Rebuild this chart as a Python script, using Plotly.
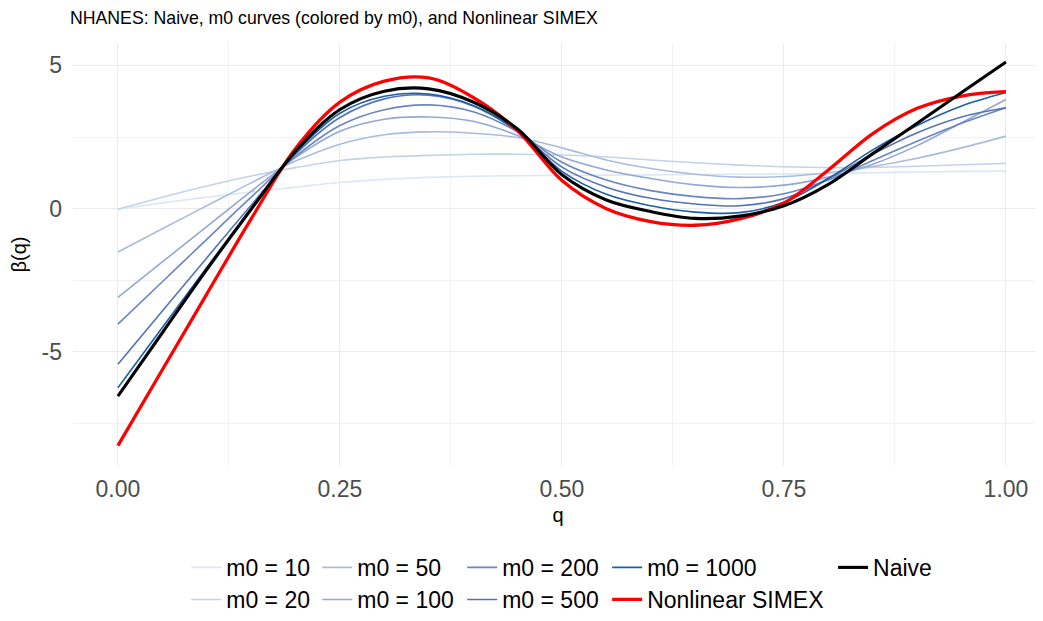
import plotly.graph_objects as go

# ---------------- data ----------------
q = [0.00, 0.05, 0.10, 0.15, 0.20, 0.25, 0.30, 0.35, 0.40, 0.45, 0.50,
     0.55, 0.60, 0.65, 0.70, 0.75, 0.80, 0.85, 0.90, 0.95, 1.00]

m0_10 = [-0.02, 0.20, 0.40, 0.58, 0.75, 0.91, 1.02, 1.09, 1.13, 1.15, 1.16,
         1.17, 1.18, 1.19, 1.20, 1.21, 1.22, 1.25, 1.28, 1.30, 1.31]
m0_20 = [-0.02, 0.40, 0.79, 1.14, 1.43, 1.68, 1.80, 1.86, 1.90, 1.90, 1.87,
         1.80, 1.70, 1.60, 1.52, 1.46, 1.43, 1.44, 1.48, 1.53, 1.58]
m0_50 = [-1.51, -0.70, 0.10, 0.90, 1.66, 2.25, 2.58, 2.68, 2.63, 2.48, 2.12,
         1.70, 1.40, 1.20, 1.10, 1.12, 1.25, 1.47, 1.76, 2.12, 2.53]
m0_100 = [-3.10, -1.86, -0.63, 0.60, 1.78, 2.70, 3.12, 3.20, 3.05, 2.55, 1.80,
          1.35, 1.05, 0.83, 0.74, 0.82, 1.10, 1.55, 2.20, 3.00, 3.81]
m0_200 = [-4.03, -2.55, -1.07, 0.40, 1.82, 2.90, 3.45, 3.62, 3.38, 2.68, 1.62,
          1.00, 0.63, 0.42, 0.35, 0.52, 1.00, 1.68, 2.35, 2.98, 3.52]
m0_500 = [-5.43, -3.57, -1.72, 0.12, 1.90, 3.18, 3.83, 3.96, 3.58, 2.70, 1.45,
          0.75, 0.36, 0.16, 0.10, 0.35, 1.05, 1.90, 2.65, 3.20, 3.52]
m0_1000 = [-6.25, -4.15, -2.05, 0.00, 1.95, 3.33, 3.92, 4.00, 3.60, 2.72, 1.30,
           0.50, 0.10, -0.12, -0.14, 0.22, 1.05, 2.05, 2.90, 3.58, 4.05]
naive = [-6.54, -4.33, -2.13, -0.02, 2.00, 3.46, 4.10, 4.18, 3.72, 2.78, 1.18,
         0.30, -0.10, -0.34, -0.26, 0.10, 0.85, 1.92, 2.98, 4.05, 5.12]
simex = [-8.27, -5.62, -2.98, -0.36, 2.10, 3.72, 4.45, 4.56, 3.88, 2.72, 0.98,
         0.00, -0.45, -0.58, -0.36, 0.20, 1.35, 2.62, 3.50, 3.93, 4.08]

m0_labels = ["m0 = 10", "m0 = 20", "m0 = 50", "m0 = 100", "m0 = 200",
             "m0 = 500", "m0 = 1000"]
m0_series = [m0_10, m0_20, m0_50, m0_100, m0_200, m0_500, m0_1000]
m0_colors = ["#dce8f4", "#c3d3ea", "#a9bcdf", "#93a8d6", "#6a85c1",
             "#5473b6", "#1c5ea8"]

x_ticks = [0.0, 0.25, 0.5, 0.75, 1.0]
x_ticktext = ["0.00", "0.25", "0.50", "0.75", "1.00"]
y_ticks = [-5, 0, 5]
y_ticktext = ["-5", "0", "5"]

# ---------------- layout geometry ----------------
# the page has an 8px body margin, so the figure is 8px smaller than the window
OFF = 8
W, H = 1043 - OFF, 621 - OFF
L, R, T, B = 72.7 - OFF, 0, 43.3 - OFF, 154.3
pw = W - L - R
ph = H - T - B

def px_to_paper_x(px):
    return (px - OFF - L) / pw

def px_to_paper_y(py):
    return (H - B - (py - OFF)) / ph

# legend entries: (label, text start px, key centre py) in window pixels
legend_pos = {
    "m0 = 10": (226, 567), "m0 = 20": (226, 601),
    "m0 = 50": (357, 567), "m0 = 100": (357, 601),
    "m0 = 200": (502, 567), "m0 = 500": (502, 601),
    "m0 = 1000": (647, 567), "Nonlinear SIMEX": (647, 601),
    "Naive": (873, 567),
}

FONT = "Liberation Sans, Arial, sans-serif"

fig = go.Figure()
legend_layouts = {}
idx = 0

def add_line(y, name, color, width):
    global idx
    idx += 1
    lname = "legend" if idx == 1 else f"legend{idx}"
    fig.add_trace(go.Scatter(
        x=q, y=y, mode="lines", name=name,
        line=dict(color=color, width=width, shape="spline", smoothing=1.0),
        legend=lname, showlegend=True, hoverinfo="x+y+name"))
    tx, ty = legend_pos[name]
    legend_layouts[lname] = dict(
        x=px_to_paper_x(tx - 40), xanchor="left",
        y=px_to_paper_y(ty), yanchor="middle",
        bgcolor="rgba(0,0,0,0)", borderwidth=0,
        font=dict(family=FONT, size=23, color="#000000"),
        itemwidth=30)

for lab, ser, col in zip(m0_labels, m0_series, m0_colors):
    add_line(ser, lab, col, 1.6)
add_line(simex, "Nonlinear SIMEX", "#ff0000", 3.3)
add_line(naive, "Naive", "#000000", 3.1)

fig.update_layout(
    width=W, height=H,
    margin=dict(l=L, r=R, t=T, b=B, pad=0),
    paper_bgcolor="white", plot_bgcolor="white",
    title=dict(text="NHANES: Naive, m0 curves (colored by m0), and Nonlinear SIMEX",
               x=(70 - OFF) / W, xanchor="left", y=1 - (18 - OFF) / H, yanchor="middle",
               font=dict(family=FONT, size=17.7, color="#000000")),
    **legend_layouts,
)

fig.update_xaxes(
    range=[-0.0506, 1.0417], tickvals=x_ticks, ticktext=x_ticktext,
    showgrid=True, gridcolor="#ebebeb", gridwidth=1.1,
    minor=dict(dtick=0.125, tick0=0, showgrid=True, gridcolor="#f2f2f2", gridwidth=0.6),
    zeroline=False, showline=False, ticks="",
    tickfont=dict(family=FONT, size=23, color="#4d4d4d"),
    ticklabelstandoff=7,
    title=dict(text="q", font=dict(family=FONT, size=20, color="#000000"), standoff=6),
)
fig.update_yaxes(
    range=[-8.98, 5.78], tickvals=y_ticks, ticktext=y_ticktext,
    showgrid=True, gridcolor="#ebebeb", gridwidth=1.1,
    minor=dict(tickvals=[-7.5, -2.5, 2.5], showgrid=True, gridcolor="#f2f2f2", gridwidth=0.6),
    zeroline=False, showline=False, ticks="",
    tickfont=dict(family=FONT, size=23, color="#4d4d4d"),
    ticklabelstandoff=10,
    title=dict(text="β(q)", font=dict(family=FONT, size=20, color="#000000"), standoff=14),
)

fig.write_html("out.html")
